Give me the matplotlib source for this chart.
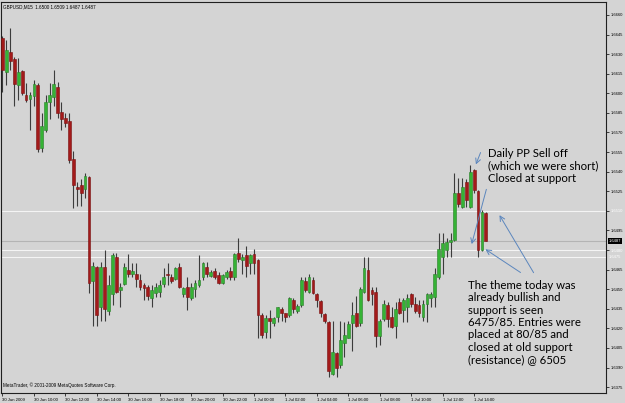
import matplotlib.pyplot as plt
import numpy as np

# GBPUSD M15, 30 Jun 2009 08:00 -> 1 Jul 2009 14:45 (124 bars)
opens = [1.6642, 1.6616, 1.6632, 1.6626, 1.6606, 1.6617, 1.6599, 1.6596, 1.6598, 1.6606,
         1.6558, 1.6572, 1.6593, 1.6597, 1.6605, 1.6586, 1.6581, 1.6579, 1.6550, 1.6528,
         1.6530, 1.6527, 1.6536, 1.6456, 1.6467, 1.6436, 1.6467, 1.6433, 1.6446, 1.6475,
         1.6449, 1.6454, 1.6465, 1.6462, 1.6462, 1.6457, 1.6453, 1.6452, 1.6443, 1.6447,
         1.6448, 1.6454, 1.6462, 1.6459, 1.6458, 1.6467, 1.6446, 1.6452, 1.6443, 1.6450,
         1.6453, 1.6459, 1.6467, 1.6460, 1.6464, 1.6461, 1.6455, 1.6459, 1.6464, 1.6459,
         1.6478, 1.6472, 1.6476, 1.6470, 1.6477, 1.6472, 1.6430, 1.6417, 1.6428, 1.6424,
         1.6429, 1.6435, 1.6432, 1.6430, 1.6442, 1.6433, 1.6438, 1.6456, 1.6448, 1.6457,
         1.6446, 1.6441, 1.6431, 1.6425, 1.6385, 1.6401, 1.6392, 1.6409, 1.6413, 1.6424,
         1.6432, 1.6424, 1.6448, 1.6465, 1.6449, 1.6448, 1.6414, 1.6427, 1.6438, 1.6429,
         1.6422, 1.6440, 1.6434, 1.6436, 1.6446, 1.6439, 1.6438, 1.6429, 1.6439, 1.6443,
         1.6444, 1.6459, 1.6475, 1.6480, 1.6486, 1.6488, 1.6524, 1.6513, 1.6532, 1.6513,
         1.6541, 1.6525, 1.6480, 1.6508]
highs = [1.6644, 1.6641, 1.6650, 1.6628, 1.6627, 1.6618, 1.6608, 1.6601, 1.6610, 1.6608,
         1.6585, 1.6599, 1.6608, 1.6618, 1.6609, 1.6593, 1.6585, 1.6585, 1.6556, 1.6532,
         1.6534, 1.6539, 1.6537, 1.6471, 1.6468, 1.6471, 1.6480, 1.6461, 1.6478, 1.6478,
         1.6455, 1.6470, 1.6477, 1.6470, 1.6470, 1.6462, 1.6455, 1.6453, 1.6453, 1.6455,
         1.6457, 1.6466, 1.6470, 1.6462, 1.6467, 1.6470, 1.6452, 1.6459, 1.6455, 1.6457,
         1.6476, 1.6471, 1.6471, 1.6465, 1.6466, 1.6463, 1.6462, 1.6465, 1.6467, 1.6478,
         1.6489, 1.6477, 1.6483, 1.6477, 1.6481, 1.6473, 1.6432, 1.6430, 1.6434, 1.6429,
         1.6436, 1.6436, 1.6432, 1.6444, 1.6443, 1.6439, 1.6459, 1.6459, 1.6462, 1.6459,
         1.6447, 1.6442, 1.6432, 1.6426, 1.6426, 1.6402, 1.6426, 1.6425, 1.6426, 1.6440,
         1.6445, 1.6452, 1.6475, 1.6475, 1.6452, 1.6452, 1.6427, 1.6442, 1.6440, 1.6436,
         1.6440, 1.6443, 1.6443, 1.6446, 1.6447, 1.6444, 1.6442, 1.6442, 1.6447, 1.6448,
         1.6466, 1.6493, 1.6493, 1.6489, 1.6493, 1.6539, 1.6535, 1.6535, 1.6534, 1.6545,
         1.6542, 1.6526, 1.6511, 1.6509]
lows = [1.6601, 1.6606, 1.6618, 1.6590, 1.6595, 1.6599, 1.6593, 1.6572, 1.6590, 1.6555,
        1.6555, 1.6570, 1.6580, 1.6590, 1.6581, 1.6572, 1.6574, 1.6547, 1.6512, 1.6514,
        1.6514, 1.6520, 1.6447, 1.6422, 1.6422, 1.6426, 1.6426, 1.6430, 1.6438, 1.6447,
        1.6436, 1.6453, 1.6459, 1.6459, 1.6452, 1.6449, 1.6442, 1.6442, 1.6436, 1.6444,
        1.6444, 1.6452, 1.6453, 1.6455, 1.6457, 1.6451, 1.6444, 1.6434, 1.6442, 1.6444,
        1.6452, 1.6457, 1.6459, 1.6459, 1.6458, 1.6454, 1.6454, 1.6458, 1.6457, 1.6457,
        1.6471, 1.6462, 1.6459, 1.6462, 1.6462, 1.6413, 1.6413, 1.6413, 1.6413, 1.6422,
        1.6425, 1.6426, 1.6425, 1.6429, 1.6432, 1.6432, 1.6436, 1.6448, 1.6447, 1.6446,
        1.6436, 1.6429, 1.6424, 1.6383, 1.6384, 1.6383, 1.6390, 1.6398, 1.6413, 1.6403,
        1.6421, 1.6422, 1.6447, 1.6441, 1.6438, 1.6406, 1.6407, 1.6426, 1.6421, 1.6420,
        1.6413, 1.6431, 1.6425, 1.6425, 1.6436, 1.6432, 1.6429, 1.6426, 1.6425, 1.6436,
        1.6436, 1.6458, 1.6462, 1.6475, 1.6475, 1.6487, 1.6513, 1.6512, 1.6513, 1.6512,
        1.6524, 1.6475, 1.6479, 1.6487]
closes = [1.6618, 1.6633, 1.6625, 1.6607, 1.6616, 1.6600, 1.6595, 1.6599, 1.6607, 1.6557,
          1.6575, 1.6593, 1.6599, 1.6607, 1.6585, 1.6580, 1.6577, 1.6549, 1.6530, 1.6527,
          1.6524, 1.6537, 1.6455, 1.6468, 1.6430, 1.6467, 1.6435, 1.6453, 1.6476, 1.6448,
          1.6452, 1.6467, 1.6462, 1.6464, 1.6458, 1.6452, 1.6451, 1.6445, 1.6449, 1.6452,
          1.6453, 1.6459, 1.6461, 1.6456, 1.6466, 1.6452, 1.6451, 1.6444, 1.6452, 1.6455,
          1.6457, 1.6470, 1.6462, 1.6463, 1.6459, 1.6455, 1.6461, 1.6463, 1.6459, 1.6477,
          1.6473, 1.6475, 1.6468, 1.6476, 1.6470, 1.6430, 1.6415, 1.6428, 1.6426, 1.6428,
          1.6436, 1.6432, 1.6429, 1.6443, 1.6435, 1.6437, 1.6457, 1.6449, 1.6459, 1.6447,
          1.6442, 1.6432, 1.6426, 1.6387, 1.6402, 1.6390, 1.6411, 1.6415, 1.6423, 1.6430,
          1.6422, 1.6450, 1.6466, 1.6442, 1.6446, 1.6414, 1.6426, 1.6439, 1.6427, 1.6421,
          1.6435, 1.6432, 1.6442, 1.6443, 1.6439, 1.6433, 1.6432, 1.6439, 1.6446, 1.6446,
          1.6462, 1.6481, 1.6485, 1.6486, 1.6488, 1.6524, 1.6515, 1.6528, 1.6518, 1.6540,
          1.6526, 1.6480, 1.6509, 1.6487]

time_labels = ["30 Jun 2009", "30 Jun 10:00", "30 Jun 12:00", "30 Jun 14:00", "30 Jun 16:00",
               "30 Jun 18:00", "30 Jun 20:00", "30 Jun 22:00", "1 Jul 00:00", "1 Jul 02:00",
               "1 Jul 04:00", "1 Jul 06:00", "1 Jul 08:00", "1 Jul 10:00", "1 Jul 12:00",
               "1 Jul 14:00"]
price_ticks = [1.6375, 1.6390, 1.6405, 1.6420, 1.6435, 1.6450, 1.6465, 1.6480, 1.6495,
               1.6510, 1.6525, 1.6540, 1.6555, 1.6570, 1.6585, 1.6600, 1.6615, 1.6630,
               1.6645, 1.6660]
level_lines = [1.6510, 1.6480, 1.6475]   # white S/R lines
bid_price = 1.6487
header = "GBPUSD,M15  1.6500 1.6509 1.6487 1.6487"

note_top = "Daily PP Sell off\n(which we were short)\nClosed at support"
note_bottom = ("The theme today was\nalready bullish and\nsupport is seen\n"
               "6475/85. Entries were\nplaced at 80/85 and\nclosed at old support\n"
               "(resistance) @ 6505")

bg = '#d4d4d4'
bull = '#35b335'
bear = '#a31a1a'
small = 'Liberation Sans'

fig = plt.figure(figsize=(6.25, 4.03), dpi=100, facecolor=bg)
ax = fig.add_axes([1/625, 10/403, 605/625, 391.5/403])
ax.set_facecolor(bg)

x = np.arange(len(opens))
o = np.array(opens)
h = np.array(highs)
l = np.array(lows)
c = np.array(closes)
up = c >= o

# levels
for lvl in level_lines:
    ax.axhline(lvl, color='#f4f4f4', lw=0.8, zorder=1)
ax.axhline(bid_price, color='#b4b4b4', lw=0.8, zorder=1)

# wicks and bodies
ax.vlines(x, l, h, color='#3c3c3c', lw=0.8, zorder=2)
body_h = np.maximum(np.abs(c - o), 0.00004)
ax.bar(x[up], body_h[up], bottom=np.minimum(o, c)[up], width=0.72,
       color=bull, edgecolor='#2a802a', linewidth=0.4, zorder=3)
ax.bar(x[~up], body_h[~up], bottom=np.minimum(o, c)[~up], width=0.72,
       color=bear, edgecolor='#7a1010', linewidth=0.4, zorder=3)

ax.set_xlim(-0.38, 153.56)
ax.set_ylim(1.63705, 1.66703)

# axes styling
for sp in ax.spines.values():
    sp.set_color('#202020')
    sp.set_linewidth(0.8)

ax.yaxis.tick_right()
ax.set_yticks(price_ticks)
ax.set_yticklabels(['%.4f' % p for p in price_ticks], family=small)
ax.set_xticks(x[::8])
ax.set_xticklabels(time_labels, ha='left', family=small)
ax.tick_params(axis='y', labelsize=3.0, length=2, width=0.5, pad=1.2)
ax.tick_params(axis='x', labelsize=3.1, length=2, width=0.5, pad=1.5)
for lab in ax.get_yticklabels():
    if lab.get_text() in ('%.4f' % level_lines[0], '%.4f' % level_lines[1]):
        lab.set_color('white')

ytr = ax.get_yaxis_transform()
ax.text(1.0045, level_lines[2], '%.4f' % level_lines[2], transform=ytr, fontsize=3.0,
        family=small, color='white', va='center', ha='left', clip_on=False)
ax.text(1.0045, bid_price, '%.4f' % bid_price, transform=ytr, fontsize=3.0,
        family=small, color='white', va='center', ha='left', clip_on=False,
        bbox=dict(facecolor='black', edgecolor='none', pad=0.6))

ax.text(0.004, 0.993, header, transform=ax.transAxes, fontsize=3.3, family=small,
        va='top', ha='left')
ax.text(0.004, 0.012, "MetaTrader, \u00a9 2001-2009 MetaQuotes Software Corp.",
        transform=ax.transAxes, fontsize=3.3, family=small, va='bottom', ha='left')

# notes and arrows
ax.text(123.5, 1.6558, note_top, fontsize=8.2, family='Lato', va='top', ha='left',
        linespacing=1.15)
ax.text(118.4, 1.6457, note_bottom, fontsize=8.2, family='Lato', va='top', ha='left',
        linespacing=1.15)

arrow = dict(arrowstyle='->,head_length=0.35,head_width=0.18', color='#5b86bd', lw=0.7)
ax.annotate('', xy=(120.2, 1.65436), xytext=(121.9, 1.65566), arrowprops=arrow)
ax.annotate('', xy=(119.2, 1.64825), xytext=(123.3, 1.65285), arrowprops=arrow)
ax.annotate('', xy=(126.1, 1.65085), xytext=(135.5, 1.64608), arrowprops=arrow)
ax.annotate('', xy=(122.3, 1.64817), xytext=(132.4, 1.64616), arrowprops=arrow)

fig.savefig('out.png', dpi=100, facecolor=bg)
